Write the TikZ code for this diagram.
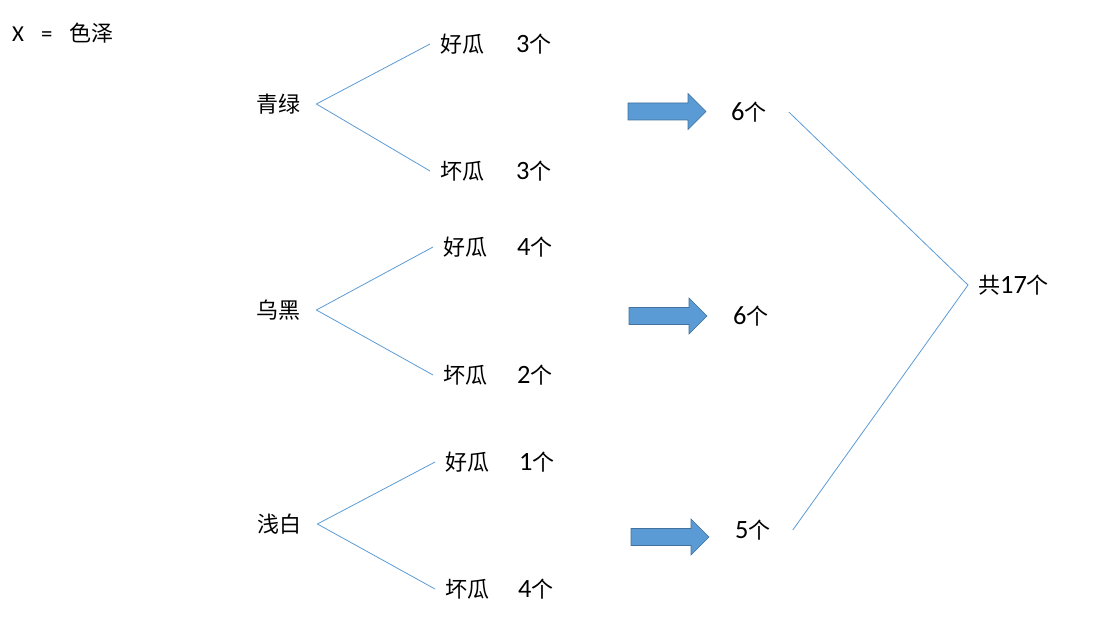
\documentclass[tikz,border=0pt]{standalone}
\usepackage{fontspec}
\setmainfont{Carlito}[Scale=1.2]
\newfontfamily\cjk{Noto Sans CJK SC}
\usetikzlibrary{positioning}
\definecolor{branchblue}{HTML}{5B9BD5}
\definecolor{arrowedge}{HTML}{41719C}
\begin{document}
\begin{tikzpicture}[x=1pt, y=-1pt,
    word/.style={font=\fontsize{22}{26}\selectfont, inner sep=0pt, anchor=west},
    branch/.style={draw=branchblue, line width=0.8pt},
    blockarrow/.style={fill=branchblue, draw=arrowedge, line width=0.6pt}]
    \useasboundingbox (0,0) rectangle (1113,617);

    % Title
    \node[word, font=\fontsize{19}{24}\selectfont] (title) at (12,33) {X\hspace{17pt}=\hspace{17pt}{\fontsize{22}{26}\selectfont\cjk 色泽}};

    % Nodes (colours)
    \node[word] (qing) at (256,104) {\cjk 青绿};
    \node[word] (wu) at (256,310) {\cjk 乌黑};
    \node[word] (qian) at (257,524) {\cjk 浅白};

    % Nodes (good / bad)
    \node[word] (qingG) at (440,44) {\cjk 好瓜};
    \node[word] (qingB) at (440,171) {\cjk 坏瓜};
    \node[word] (wuG) at (443,247) {\cjk 好瓜};
    \node[word] (wuB) at (443,375) {\cjk 坏瓜};
    \node[word] (qianG) at (445,462) {\cjk 好瓜};
    \node[word] (qianB) at (445,589) {\cjk 坏瓜};

    % Counts
    \node[word] (qingGn) at (516,44) {3{\cjk 个}};
    \node[word] (qingBn) at (516,171) {3{\cjk 个}};
    \node[word] (wuGn) at (517,247) {4{\cjk 个}};
    \node[word] (wuBn) at (517,375) {2{\cjk 个}};
    \node[word] (qianGn) at (519,462) {1{\cjk 个}};
    \node[word] (qianBn) at (518,589) {4{\cjk 个}};

    % Sums
    \node[word] (qingS) at (731,112) {6{\cjk 个}};
    \node[word] (wuS) at (733,316) {6{\cjk 个}};
    \node[word] (qianS) at (735,530) {5{\cjk 个}};
    \node[word] (total) at (978,285) {{\cjk 共}17{\cjk 个}};

    % Edges (branches)
    \foreach \c in {qing, wu, qian} {
        \draw[branch] ([xshift=-10pt]\c G.west) -- ([xshift=16pt]\c.east) -- ([xshift=-10pt]\c B.west);
    }
    \draw[branch] ([xshift=22pt]qingS.east) -- ([xshift=-10pt]total.west) -- ([xshift=22pt]qianS.east);

    % Block arrows
    \foreach \x/\y in {628/111.5, 629/316, 631/537} {
        \draw[blockarrow] (\x,\y-8.5) -- ++(60,0) -- ++(0,-9.5) -- ++(18,18) -- ++(-18,18)
            -- ++(0,-9.5) -- ++(-60,0) -- cycle;
    }
\end{tikzpicture}
\end{document}
